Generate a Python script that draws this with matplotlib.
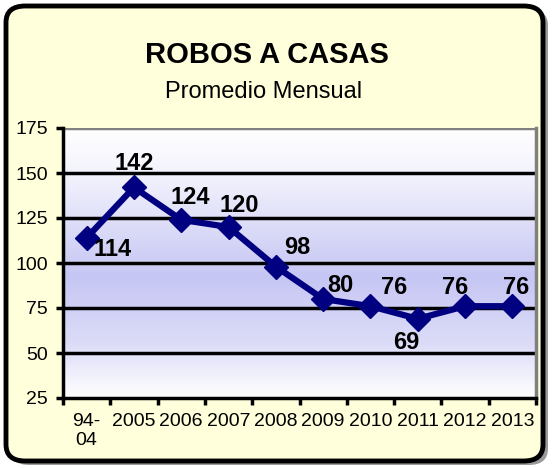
import matplotlib
matplotlib.use("Agg")
import matplotlib.pyplot as plt
import numpy as np
from matplotlib.patches import FancyBboxPatch
from matplotlib.colors import LinearSegmentedColormap

categories = ["94-\n04", "2005", "2006", "2007", "2008", "2009", "2010", "2011", "2012", "2013"]
values = [114, 142, 124, 120, 98, 80, 76, 69, 76, 76]
yticks = [25, 50, 75, 100, 125, 150, 175]
title = "ROBOS A CASAS"
subtitle = "Promedio Mensual"

plt.rcParams['font.family'] = ['Liberation Sans', 'DejaVu Sans']

W, H = 552, 468
fig = plt.figure(figsize=(W / 100, H / 100), dpi=100)
fig.patch.set_facecolor("white")

# frame shadow and frame
shadow = FancyBboxPatch((10 / W, 3 / H), 538 / W, 456 / H,
                        boxstyle="round,pad=0,rounding_size=0.035",
                        transform=fig.transFigure, facecolor="#9a9a9a", edgecolor="none", zorder=0)
fig.patches.append(shadow)
frame = FancyBboxPatch((6 / W, 7 / H), 537 / W, 455 / H,
                       boxstyle="round,pad=0,rounding_size=0.035",
                       transform=fig.transFigure, facecolor="#FFFFDC", edgecolor="black",
                       linewidth=3.5, zorder=1)
fig.patches.append(frame)

fig.text(267 / W, 1 - 63 / H, title, ha="center", va="baseline", fontsize=21, fontweight="bold", color="black")
fig.text(264 / W, 1 - 98 / H, subtitle, ha="center", va="baseline", fontsize=17, color="black")

ax = fig.add_axes([63 / W, 70 / H, 473 / W, 270 / H])
ax.set_zorder(2)
x = np.arange(len(values))
ax.set_xlim(-0.5, len(values) - 0.5)
ax.set_ylim(25, 175)

# gradient background
cmap = LinearSegmentedColormap.from_list("g", [(0, "#FFFFFF"), (0.18, "#F2F2FD"), (0.55, "#C6C6F4"),
                                               (0.8, "#DCDCF8"), (1.0, "#FFFFFF")])
grad = np.linspace(0, 1, 256).reshape(-1, 1)
ax.imshow(grad, aspect="auto", cmap=cmap, extent=(-0.5, len(values) - 0.5, 25, 175),
          origin="upper", zorder=0)

for yv in yticks[1:-1]:
    ax.axhline(yv, color="black", lw=2.5, zorder=1)
ax.axhline(175, color="#808080", lw=2.5, zorder=1)

ax.plot(x, values, color="#000080", lw=4.5, marker="D", markersize=12.5, zorder=3, solid_joinstyle="miter")

# label offsets in pixels (dx right, dy up)
offsets_px = [(26, -12), (0, 24), (9, 22), (11, 22), (21, 19), (17, 14),
              (24, 19), (-11, -24), (-10, 19), (4, 19)]
for xi, v, (dx, dy) in zip(x, values, offsets_px):
    ax.annotate(str(v), (xi, v), xytext=(dx * 0.72, dy * 0.72), textcoords="offset points",
                ha="center", va="center", fontsize=17, fontweight="bold", color="black", zorder=4)

ax.set_yticks(yticks)
ax.set_yticklabels([str(t) for t in yticks], fontsize=14)
ax.set_xticks(x)
ax.set_xticklabels(categories, fontsize=14, va="top", linespacing=1.1)
ax.set_xticks(np.arange(-0.5, len(values), 1), minor=True)
ax.tick_params(axis="x", which="major", length=0, pad=11)
ax.tick_params(axis="x", which="minor", length=5, width=2.5, direction="out")
ax.tick_params(axis="y", length=5, width=2.5, direction="out", pad=6)

ax.spines["top"].set_visible(False)
ax.spines["right"].set_color("#808080")
ax.spines["right"].set_linewidth(2.5)
ax.spines["left"].set_linewidth(2.5)
ax.spines["bottom"].set_linewidth(2.5)

fig.savefig("out.png", dpi=100)
